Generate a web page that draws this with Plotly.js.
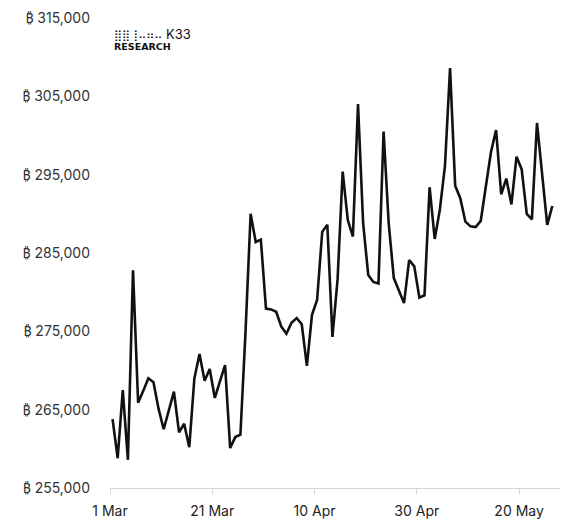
<!DOCTYPE html>
<html>
<head>
<meta charset="utf-8">
<script src="https://cdn.plot.ly/plotly-3.0.1.min.js"></script>
<style>
html,body{margin:0;padding:0;background:#fff;}
#chart{width:562px;height:525px;}
</style>
</head>
<body>
<div id="chart"></div>
<script>
const dates = [
'2024-03-01','2024-03-02','2024-03-03','2024-03-04','2024-03-05','2024-03-06','2024-03-07','2024-03-08','2024-03-09','2024-03-10',
'2024-03-11','2024-03-12','2024-03-13','2024-03-14','2024-03-15','2024-03-16','2024-03-17','2024-03-18','2024-03-19','2024-03-20',
'2024-03-21','2024-03-22','2024-03-23','2024-03-24','2024-03-25','2024-03-26','2024-03-27','2024-03-28','2024-03-29','2024-03-30',
'2024-03-31','2024-04-01','2024-04-02','2024-04-03','2024-04-04','2024-04-05','2024-04-06','2024-04-07','2024-04-08','2024-04-09',
'2024-04-10','2024-04-11','2024-04-12','2024-04-13','2024-04-14','2024-04-15','2024-04-16','2024-04-17','2024-04-18','2024-04-19',
'2024-04-20','2024-04-21','2024-04-22','2024-04-23','2024-04-24','2024-04-25','2024-04-26','2024-04-27','2024-04-28','2024-04-29',
'2024-04-30','2024-05-01','2024-05-02','2024-05-03','2024-05-04','2024-05-05','2024-05-06','2024-05-07','2024-05-08','2024-05-09',
'2024-05-10','2024-05-11','2024-05-12','2024-05-13','2024-05-14','2024-05-15','2024-05-16','2024-05-17','2024-05-18','2024-05-19',
'2024-05-20','2024-05-21','2024-05-22','2024-05-23','2024-05-24','2024-05-25','2024-05-26'
];
const btcHeld = [
263800,258800,267500,258600,282800,265900,267400,269000,268500,265100,
262500,264800,267300,262100,263200,260200,269000,272100,268700,270200,
266500,268600,270700,260100,261500,261800,274900,290000,286400,286700,
277900,277800,277500,275600,274700,276100,276700,275900,270600,277100,
279000,287700,288600,274300,281600,295400,289200,287100,304000,288800,
282200,281300,281100,300500,288800,281800,280100,278600,284100,283300,
279300,279600,293400,286800,290500,296100,308600,293600,292000,289000,
288400,288300,289100,293700,297900,300700,292500,294500,291200,297300,
295700,290000,289300,301600,295000,288600,291000
];
const xTickVals = ['2024-03-01','2024-03-21','2024-04-10','2024-04-30','2024-05-20'];
const xTickText = ['1 Mar','21 Mar','10 Apr','30 Apr','20 May'];
const yTickVals = [255000,265000,275000,285000,295000,305000,315000];
const yTickNums = ['255,000','265,000','275,000','285,000','295,000','305,000','315,000'];
const currencySign = '₿';

const FONT = 'Inter, "Noto Sans", "DejaVu Sans", sans-serif';
const yTickText = yTickNums.map(t =>
  '<span style="font-family:\'Noto Sans\'">' + currencySign + '</span> ' + t);

Plotly.newPlot('chart', [{
  x: dates.map(d => d + ' 12:00'),
  y: btcHeld,
  type: 'scatter',
  mode: 'lines',
  line: {color: '#111111', width: 2.6},
  hoverinfo: 'skip'
}], {
  width: 562, height: 525,
  margin: {l: 110, r: 2, t: 18, b: 37},
  paper_bgcolor: '#ffffff', plot_bgcolor: '#ffffff',
  showlegend: false,
  font: {family: FONT, size: 14, color: '#222222'},
  xaxis: {
    type: 'date',
    range: ['2024-03-01', '2024-05-28'],
    tickvals: xTickVals, ticktext: xTickText,
    showgrid: false, zeroline: false,
    showline: true, linecolor: '#d6d6d6', linewidth: 1,
    ticks: 'outside', ticklen: 5, tickcolor: '#d6d6d6', tickwidth: 1,
    ticklabelstandoff: 5,
    tickfont: {family: FONT, size: 14, color: '#222222'}
  },
  yaxis: {
    range: [255000, 315000],
    tickvals: yTickVals, ticktext: yTickText,
    showgrid: false, zeroline: false, showline: false,
    ticks: '', ticklabelstandoff: 19,
    tickfont: {family: FONT, size: 14, color: '#333333'}
  },
  annotations: [
    {xref: 'paper', yref: 'paper', x: 0.004, y: 0.966, xanchor: 'left', yanchor: 'middle',
     text: '<span style="font-family:\'DejaVu Sans\';font-size:11px">⣿⣿⢸⠤⠶⠤</span> K33', showarrow: false,
     font: {family: FONT, size: 13, color: '#111111'}},
    {xref: 'paper', yref: 'paper', x: 0.004, y: 0.94, xanchor: 'left', yanchor: 'middle',
     text: '<b>RESEARCH</b>', showarrow: false, font: {family: '"DejaVu Sans"', size: 9.5, color: '#111111'}}
  ]
}, {displayModeBar: false, staticPlot: true});
</script>
</body>
</html>
